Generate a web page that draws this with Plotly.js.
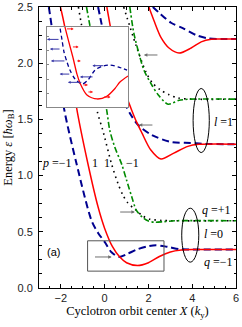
<!DOCTYPE html>
<html><head><meta charset="utf-8">
<script src="https://cdn.plot.ly/plotly-3.0.1.min.js"></script>
<style>html,body{margin:0;padding:0;background:#fff;}#chart{width:242px;height:327px;}</style>
</head><body><div id="chart"></div>
<script>
// ---- l = 0 group ----
const redL_X   = [-2.02,-1.82,-1.28,-0.77,-0.30,0.00,0.35,0.69,1.00,1.50,2.00,2.50,3.00,3.50,4.00,6.00];
const redL_E   = [2.50,2.32,1.60,1.11,0.72,0.53,0.37,0.275,0.225,0.200,0.225,0.28,0.32,0.337,0.342,0.342];
const blueL_X  = [-2.55,-2.30,-1.84,-1.29,-0.60,-0.30,0.00,0.30,0.64,1.00,1.50,2.00,2.35,2.90,3.45,4.00,6.00];
const blueL_E  = [2.50,2.17,1.58,1.11,0.60,0.49,0.41,0.32,0.277,0.30,0.345,0.372,0.38,0.365,0.345,0.342,0.342];
const blackL_X = [-1.20,-0.75,-0.32,-0.09,0.32,0.60,0.83,1.06,1.29,1.45,1.75,2.07,2.60,3.20,6.00];
const blackL_E = [2.50,2.00,1.557,1.406,1.10,0.934,0.827,0.756,0.715,0.69,0.64,0.612,0.601,0.598,0.598];
const greenL_X = [-0.83,-0.40,0.09,0.23,0.46,0.78,1.00,1.24,1.45,1.75,2.00,2.30,2.70,3.20,6.00];
const greenL_E = [2.50,2.05,1.584,1.406,1.254,1.10,0.96,0.81,0.69,0.625,0.595,0.585,0.59,0.598,0.598];
// ---- l = 1 group ----
const redM_X   = [0.10,0.50,0.90,1.20,1.45,1.70,2.10,2.57,3.16,3.80,4.30,6.00];
const redM_E   = [2.50,2.08,1.76,1.60,1.48,1.38,1.23,1.148,1.20,1.26,1.278,1.28];
const blueM_X  = [-0.30,0.20,0.70,1.20,1.55,2.16,3.03,3.95,4.50,6.00];
const blueM_E  = [2.50,2.05,1.73,1.54,1.445,1.36,1.30,1.29,1.282,1.28];
const blackM_X = [0.87,1.43,1.89,2.20,2.57,2.94,3.36,4.00,6.00];
const blackM_E = [2.50,2.16,1.92,1.82,1.76,1.72,1.69,1.68,1.68];
const greenM_X = [1.15,1.33,1.56,1.79,2.11,2.44,2.90,3.40,3.90,6.00];
const greenM_E = [2.50,2.27,2.09,1.94,1.82,1.72,1.635,1.67,1.68,1.68];
// ---- l = 2 group ----
const redU_X   = [2.02,2.25,2.57,2.94,3.40,3.95,4.41,4.87,5.30,6.00];
const redU_E   = [2.50,2.38,2.23,2.135,2.09,2.135,2.19,2.213,2.215,2.215];
const blueU_X  = [2.20,2.48,3.03,3.59,4.18,4.74,5.30,6.00];
const blueU_E  = [2.50,2.45,2.36,2.31,2.25,2.22,2.215,2.215];
// ---- inset (magnified l = 0, q = -1 branches) ----
const insRed_X  = [-0.60,-0.43,0.06,0.30,0.48,0.90,1.51,2.10,2.60,2.90,3.39];
const insRed_E  = [0.70,0.611,0.434,0.34,0.291,0.223,0.200,0.215,0.26,0.297,0.331];
const insBlue_X = [-0.85,-0.73,-0.61,-0.49,-0.31,-0.13,0.18,0.60,0.96,1.39,1.87,2.30,2.78,3.33];
const insBlue_E = [0.68,0.605,0.537,0.468,0.411,0.365,0.314,0.285,0.308,0.365,0.388,0.394,0.383,0.365];
// inset force arrows: tail -> head
const insRedArr_X0 = [-0.40,-0.04,0.22,0.60,0.90,1.85];
const insRedArr_X1 = [0.10,0.40,0.53,0.96,1.27,2.33];
const insRedArr_E  = [0.600,0.497,0.417,0.280,0.240,0.211];
const insBlueArr_X0 = [-0.73,-0.67,-0.37,-0.08,0.65,1.33,1.96];
const insBlueArr_X1 = [-1.52,-1.34,-1.28,-0.75,-0.25,0.48,1.23];
const insBlueArr_E  = [0.54,0.485,0.417,0.342,0.295,0.326,0.39];
// gray pointer arrows (tail -> head) in main axes
const ptrX0 = [2.48,2.25,0.64,-0.51];
const ptrX1 = [1.79,1.56,1.38,0.32];
const ptrE  = [2.073,1.45,0.676,0.276];
// zoom box and level ellipses
const zoomBoxX = [-0.78,2.71], zoomBoxE = [0.15,0.42];
const ellX = [[4.04,4.78],[3.52,4.30]], ellE = [[1.205,1.775],[0.23,0.71]];
// labels
const labText = ['<i>p</i> =−1','1','1','−1','<i>l</i> =1','<i>q</i> =+1','<i>l</i> =0','<i>q</i> =−1'];
const labX    = [-2.2,-0.46,0.09,1.26,5.43,5.1,4.95,5.18];
const labE    = [1.11,1.11,1.11,1.11,1.48,0.69,0.48,0.23];

const RED='#ff0000', BLUE='#00008f', GREEN='#008a00', BLACK='#000000';
const sty = {
  red:{color:RED,width:1.5,dash:'solid'},
  blue:{color:BLUE,width:2,dash:'7px,4px'},
  black:{color:BLACK,width:1.6,dash:'1.6px,4px'},
  green:{color:GREEN,width:1.6,dash:'6px,2.5px,2px,2.5px'}
};
function tr(x,y,s,xa,ya){return {x:x,y:y,type:'scatter',mode:'lines',xaxis:xa||'x',yaxis:ya||'y',
  line:Object.assign({shape:'spline',smoothing:0.8},sty[s]),hoverinfo:'skip',showlegend:false};}
const data=[
  tr(blueL_X,blueL_E,'blue'),tr(redL_X,redL_E,'red'),tr(blackL_X,blackL_E,'black'),tr(greenL_X,greenL_E,'green'),
  tr(blueM_X,blueM_E,'blue'),tr(redM_X,redM_E,'red'),tr(blackM_X,blackM_E,'black'),tr(greenM_X,greenM_E,'green'),
  tr(blueU_X,blueU_E,'blue'),tr(redU_X,redU_E,'red'),
  tr(insBlue_X,insBlue_E,'blue','x2','y2'),tr(insRed_X,insRed_E,'red','x2','y2')
];
data[10].line.width=1.3; data[10].line.dash='4px,3px'; data[11].line.width=1.3;

const ann=[];
for(let i=0;i<ptrE.length;i++) ann.push({x:ptrX1[i],y:ptrE[i],ax:ptrX0[i],ay:ptrE[i],xref:'x',yref:'y',axref:'x',ayref:'y',
  text:'',showarrow:true,arrowhead:2,arrowsize:0.7,arrowwidth:1,arrowcolor:'#707070'});
for(let i=0;i<insRedArr_E.length;i++) ann.push({x:insRedArr_X1[i],y:insRedArr_E[i],ax:insRedArr_X0[i],ay:insRedArr_E[i],
  xref:'x2',yref:'y2',axref:'x2',ayref:'y2',text:'',showarrow:true,arrowhead:2,arrowsize:0.55,arrowwidth:1,arrowcolor:'#ff2020'});
for(let i=0;i<insBlueArr_E.length;i++) ann.push({x:insBlueArr_X1[i],y:insBlueArr_E[i],ax:insBlueArr_X0[i],ay:insBlueArr_E[i],
  xref:'x2',yref:'y2',axref:'x2',ayref:'y2',text:'',showarrow:true,arrowhead:2,arrowsize:0.55,arrowwidth:1,arrowcolor:'#3838a8'});
for(let i=0;i<labText.length;i++) ann.push({x:labX[i],y:labE[i],xref:'x',yref:'y',text:labText[i],showarrow:false,
  font:{family:'Liberation Serif',size:12,color:'#000'}});
ann.push({x:-2.34,y:0.32,xref:'x',yref:'y',text:'(a)',showarrow:false,font:{family:'Liberation Sans',size:11,color:'#000'}});

const shapes=[
  {type:'rect',xref:'x',yref:'y',x0:zoomBoxX[0],x1:zoomBoxX[1],y0:zoomBoxE[0],y1:zoomBoxE[1],line:{color:'#555',width:1}},
  {type:'circle',xref:'x',yref:'y',x0:ellX[0][0],x1:ellX[0][1],y0:ellE[0][0],y1:ellE[0][1],line:{color:'#000',width:1}},
  {type:'circle',xref:'x',yref:'y',x0:ellX[1][0],x1:ellX[1][1],y0:ellE[1][0],y1:ellE[1][1],line:{color:'#000',width:1}}
];

const tickFont={family:'Liberation Sans',size:11,color:'#222'};
const layout={
  width:242,height:327,margin:{l:39,r:6,t:7,b:39},
  paper_bgcolor:'#fff',plot_bgcolor:'#fff',showlegend:false,
  xaxis:{range:[-3,6],dtick:2,tick0:0,ticks:'inside',ticklen:4,tickwidth:1,tickcolor:'#000',
    minor:{dtick:0.5,ticks:'inside',ticklen:2.5,tickcolor:'#000'},
    showline:true,linecolor:'#000',linewidth:1,mirror:'allticks',showgrid:false,zeroline:false,
    tickfont:tickFont,
    title:{text:'Cyclotron orbit center <i>X</i> (<i>k</i><sub>y</sub>)',font:{family:'Liberation Serif',size:12.5,color:'#000'},standoff:2}},
  yaxis:{range:[0,2.5],dtick:0.5,tick0:0,tickformat:'.1f',ticks:'inside',ticklen:4,tickwidth:1,tickcolor:'#000',
    minor:{dtick:0.125,ticks:'inside',ticklen:2.5,tickcolor:'#000'},
    showline:true,linecolor:'#000',linewidth:1,mirror:'allticks',showgrid:false,zeroline:false,
    tickfont:tickFont,ticklabelstandoff:3,
    title:{text:'Energy <i>ε</i> [<i>ħω</i><sub>B</sub>]',font:{family:'Liberation Serif',size:12.5,color:'#000'},standoff:2}},
  xaxis2:{domain:[0.0406,0.452],range:[-1.52,3.39],anchor:'y2',showline:true,linecolor:'#888',linewidth:1,mirror:true,
    ticks:'',showticklabels:false,showgrid:false,zeroline:false},
  yaxis2:{domain:[0.644,0.929],range:[0.154,0.611],anchor:'x2',showline:true,linecolor:'#888',linewidth:1,mirror:true,
    ticks:'inside',ticklen:2,tickcolor:'#888',dtick:0.08,tick0:0.154,showticklabels:false,showgrid:false,zeroline:false},
  annotations:ann,shapes:shapes
};
Plotly.newPlot('chart',data,layout,{staticPlot:true,displayModeBar:false});
</script></body></html>
